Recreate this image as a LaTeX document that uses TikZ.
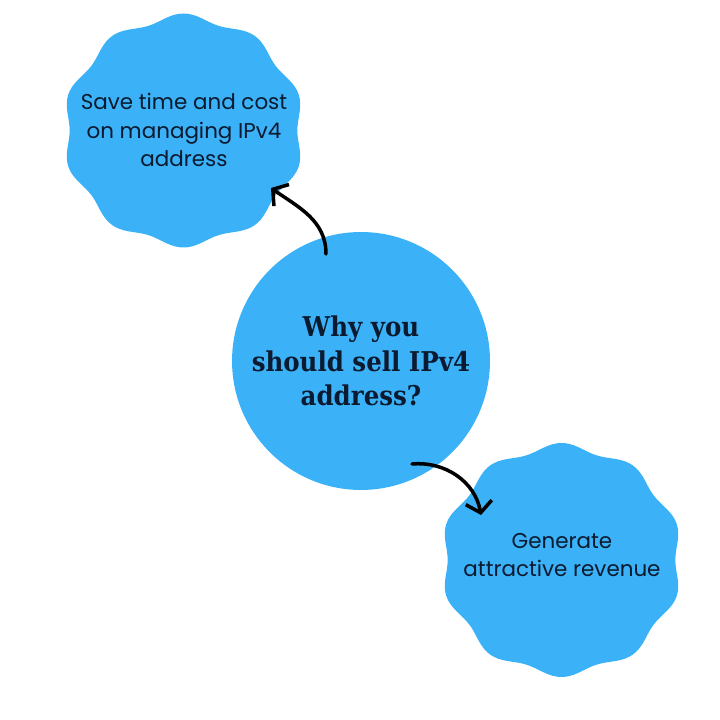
\documentclass[tikz,border=0pt]{standalone}
\usepackage{fontspec}
\setmainfont{DejaVu Serif}
\newfontfamily\hubfont{DejaVu Serif Condensed}
\newfontfamily\blobfont{Poppins}
\usetikzlibrary{arrows.meta}

\definecolor{skyblue}{HTML}{3BB1F8}
\definecolor{inkblue}{HTML}{0B1A2E}

\tikzset{
  blob/.style={fill=skyblue},
  blobtext/.style={text=inkblue, align=center, font=\blobfont\fontsize{12.2}{16}\selectfont},
  hubtext/.style={circle, fill=skyblue, minimum size=5.16cm, text=inkblue, align=center,
    font=\hubfont\bfseries\fontsize{15.5}{19.5}\selectfont},
  curly/.style={-{Straight Barb[length=6pt,width=15pt,line width=2pt]}, line width=2pt, line cap=round}
}

% wavy disc: centre x, centre y
\newcommand{\wavydisc}[2]{%
  \fill[blob] plot[smooth cycle, domain=0:358, samples=180]
    ({#1+1.035*(113.5-3.5*cos(10*\x))*cos(\x)}, {#2+(113.5-3.5*cos(10*\x))*sin(\x)});
}

\begin{document}
\begin{tikzpicture}[x=0.02cm, y=0.02cm]
\useasboundingbox (0,0) rectangle (720,720);

% the three discs
\wavydisc{183.5}{589.5}
\wavydisc{561.5}{160}
\node[hubtext] (hub) at (361,359) {Why you\\should sell IPv4\\address?};

% texts of the wavy discs
\node[blobtext] (save) at (184,590) {Save time and cost\\on managing IPv4\\address};
\node[blobtext] (earn) at (562,165) {Generate\\attractive revenue};

% arrows
\coordinate (hubtop) at (326,466);
\coordinate (savetip) at (271,532);
\coordinate (hubbot) at (412,256);
\coordinate (earntip) at (481,205);
\draw[curly] (hubtop) to[out=90, in=-35] (savetip);
\draw[curly] (hubbot) to[out=5, in=100] (earntip);
\end{tikzpicture}
\end{document}
